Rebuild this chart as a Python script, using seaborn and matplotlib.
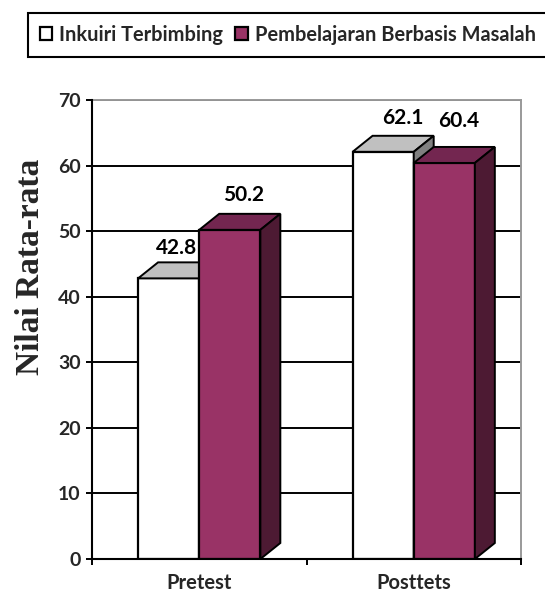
import matplotlib
matplotlib.use('Agg')
import matplotlib.pyplot as plt
from matplotlib.patches import Polygon
import pandas as pd
import seaborn as sns

categories = ['Pretest', 'Posttets']
series_names = ['Inkuiri Terbimbing', 'Pembelajaran Berbasis Masalah']
inkuiri = [42.8, 62.1]
masalah = [50.2, 60.4]
y_ticks = [0, 10, 20, 30, 40, 50, 60, 70]

# label offsets (points), placed by hand like in the original
label_offsets = [[(5.8, 21.6), (10, 25)], [(14.4, 24), (10, 30)]]

front = ['#FFFFFF', '#993366']
top_face = ['#C0C0C0', '#732650']
side_face = ['#808080', '#4D1A33']
DX, DY = 0.093, 2.44

df = pd.DataFrame({
    'cat': categories * 2,
    'series': [series_names[0]] * 2 + [series_names[1]] * 2,
    'val': inkuiri + masalah,
})

sns.set_style('white')
plt.rcParams['font.family'] = ['Lato', 'DejaVu Sans']
plt.rcParams['font.weight'] = 'bold'

fig = plt.figure(figsize=(5.45, 5.94), dpi=100)
ax = fig.add_axes([92 / 545, 1 - 559 / 594, 429 / 545, 459 / 594])
sns.barplot(data=df, x='cat', y='val', hue='series', palette=front, width=0.57, gap=0,
            edgecolor='black', linewidth=1.6, saturation=1, legend=False, ax=ax)

ax.set_xlim(-0.5, 1.5)
ax.set_ylim(0, 70)
ax.set_yticks(y_ticks)
ax.set_xlabel('')
ax.set_ylabel('Nilai Rata-rata', family='Liberation Serif', fontsize=24, fontweight='bold')
ax.yaxis.set_label_coords(-0.107, 0.636)
ax.yaxis.grid(True, color='black', lw=1.4, zorder=0.5)
ax.set_axisbelow(True)

# 3d look, faces come from the bars themselves
for i, cont in enumerate(ax.containers):
    z = 3 + i
    for j, b in enumerate(cont.patches):
        b.set_zorder(z)
        x0, x1, h = b.get_x(), b.get_x() + b.get_width(), b.get_height()
        ax.add_patch(Polygon([(x0, h), (x0 + DX, h + DY), (x1 + DX, h + DY), (x1, h)], closed=True,
                             fc=top_face[i], ec='black', lw=1.4, zorder=z))
        ax.add_patch(Polygon([(x1, 0), (x1 + DX, DY), (x1 + DX, h + DY), (x1, h)], closed=True,
                             fc=side_face[i], ec='black', lw=1.4, zorder=z))
        ax.annotate(f'{h:.1f}', (b.get_x() + b.get_width() / 2, h), xytext=label_offsets[j][i],
                    textcoords='offset points', ha='center', va='center',
                    fontsize=15, fontweight='bold', color='black', zorder=10)

ax.set_xticks([0, 1])
ax.set_xticklabels(categories, fontsize=14.5, fontweight='bold')
ax.set_xticks([-0.5, 0.5, 1.5], minor=True)
ax.tick_params(axis='x', which='major', length=0, pad=10)
ax.tick_params(axis='x', which='minor', length=4, width=1.4, color='black', bottom=True, direction='out')
ax.tick_params(axis='y', length=4, width=1.4, color='black', left=True, direction='out', labelsize=14, pad=4)

for s in ['top', 'right']:
    ax.spines[s].set_color('#999999')
    ax.spines[s].set_linewidth(1.4)
    ax.spines[s].set_zorder(2)
for s in ['left', 'bottom']:
    ax.spines[s].set_color('black')
    ax.spines[s].set_linewidth(1.5)
    ax.spines[s].set_zorder(8)

leg = fig.legend(ax.containers, series_names, loc='upper left', bbox_to_anchor=(28 / 545, 1 - 13 / 594),
                 bbox_transform=fig.transFigure, ncol=2, fontsize=14.4, frameon=True, fancybox=False,
                 edgecolor='black', framealpha=1, handlelength=0.62, handleheight=0.62, handletextpad=0.35,
                 columnspacing=0.6, borderpad=0.6, borderaxespad=0)
leg.get_frame().set_linewidth(1.5)
for t in leg.get_texts():
    t.set_fontweight('bold')

fig.savefig('out.png', dpi=100)
